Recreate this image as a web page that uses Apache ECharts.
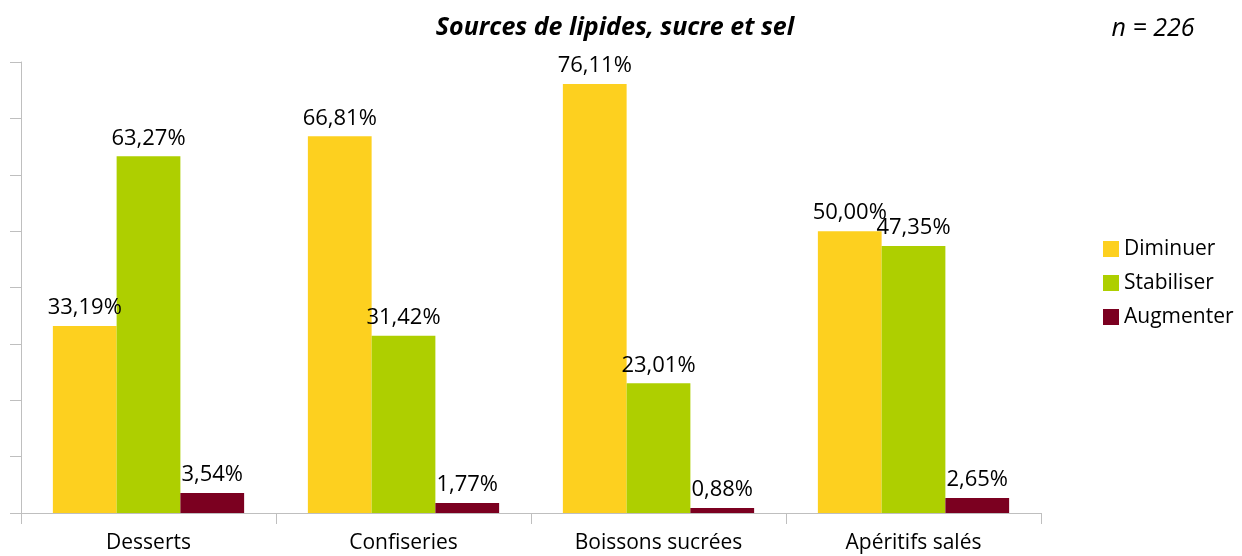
<!DOCTYPE html>
<html>
<head>
<meta charset="utf-8">
<script src="https://cdn.jsdelivr.net/npm/echarts@6/dist/echarts.min.js"></script>
<style>
  html, body { margin: 0; padding: 0; background: #fff; }
  #main { width: 1242px; height: 556px; }
</style>
</head>
<body>
<div id="main"></div>
<script>
var categories = ['Desserts', 'Confiseries', 'Boissons sucrées', 'Apéritifs salés']
var diminuer = [33.19, 66.81, 76.11, 50.00]
var stabiliser = [63.27, 31.42, 23.01, 47.35]
var augmenter = [3.54, 1.77, 0.88, 2.65]

var font = '"Open Sans", Lato, sans-serif'

function pct(p) {
  return p.value.toFixed(2).replace('.', ',') + '%'
}

function bar(name, data, color) {
  return {
    name: name,
    type: 'bar',
    data: data,
    barGap: '0%',
    barCategoryGap: '25%',
    itemStyle: { color: color },
    label: {
      show: true,
      position: 'top',
      distance: 7,
      formatter: pct,
      color: '#000',
      fontSize: 22,
      lineHeight: 22,
      fontFamily: font
    }
  }
}

var myChart = echarts.init(document.getElementById('main'))

var option = {
  animation: false,
  title: [{
    text: 'Sources de lipides, sucre et sel',
    left: 610,
    top: 10,
    textAlign: 'center',
    textStyle: { fontSize: 25, fontWeight: 'bold', fontStyle: 'italic', fontFamily: font, color: '#000' }
  }, {
    text: 'n = 226',
    left: 1148,
    top: 11,
    textAlign: 'center',
    textStyle: { fontSize: 25, fontWeight: 'normal', fontStyle: 'italic', fontFamily: font, color: '#000' }
  }],
  legend: {
    orient: 'vertical',
    left: 1098,
    top: 233,
    itemWidth: 16,
    itemHeight: 16,
    itemGap: 12,
    icon: 'rect',
    textStyle: { fontSize: 21, lineHeight: 22, fontFamily: font, color: '#000' }
  },
  grid: { left: 21, right: 201, top: 62, bottom: 43 },
  xAxis: {
    type: 'category',
    data: categories,
    axisLine: { lineStyle: { color: '#BFBFBF' } },
    axisTick: { show: true, length: 11, lineStyle: { color: '#BFBFBF' } },
    axisLabel: { fontSize: 21, lineHeight: 22, fontFamily: font, color: '#000', margin: 19 }
  },
  yAxis: {
    type: 'value',
    min: 0,
    max: 80,
    interval: 10,
    axisLine: { show: true, lineStyle: { color: '#BFBFBF' } },
    axisTick: { show: true, length: 11, lineStyle: { color: '#BFBFBF' } },
    axisLabel: { show: false },
    splitLine: { show: false }
  },
  series: [
    bar('Diminuer', diminuer, '#FDD01F'),
    bar('Stabiliser', stabiliser, '#AECF00'),
    bar('Augmenter', augmenter, '#7B0020')
  ]
}

myChart.setOption(option)
</script>
</body>
</html>
